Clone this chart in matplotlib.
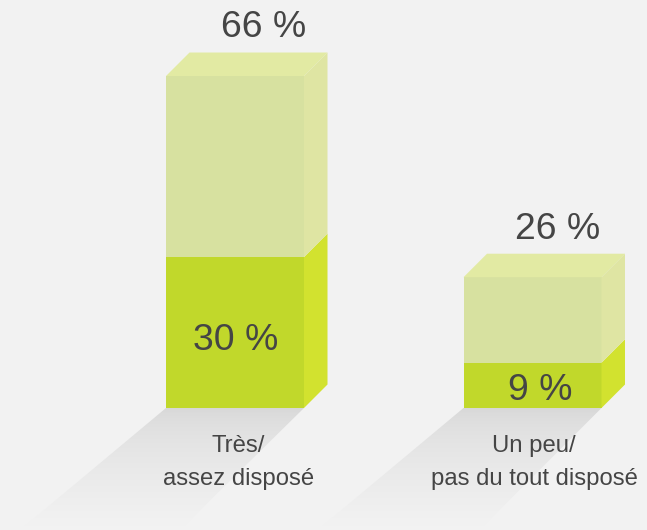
import matplotlib

matplotlib.use("Agg")

import matplotlib.pyplot as plt
import numpy as np
from matplotlib.colors import to_rgb
from matplotlib.patches import Polygon

categories = ["Très/\nassez disposé", "Un peu/\npas du tout disposé"]
lower_values = [30, 9]
total_values = [66, 26]
lower_labels = ["30 %", "9 %"]
total_labels = ["66 %", "26 %"]

BACKGROUND = "#f2f2f2"
TEXT = "#454545"
LOWER_FRONT = "#c1d82b"
LOWER_SIDE = "#d2e22f"
UPPER_FRONT = "#d7e1a0"
UPPER_SIDE = "#dfe5a3"
TOP_FACE = "#e2eaa3"
SHADOW = "#d7d7d7"

WIDTH, HEIGHT = 647, 530
BASELINE = 408  # pixel row of value 0
SCALE = 5.03  # pixels per percentage point
DEPTH = 23.5

bar_lefts = [166, 463.5]
bar_width = 138
shadow_dx = [(-146, -124), (-146, -122)]
total_text_x = [264, 558]
lower_text_x = [236, 540]
category_text_x = [238.5, 534]


def y_at(pixel_row):
    """Convert a pixel row of the picture into axis value."""
    return (BASELINE - pixel_row) / SCALE


figure = plt.figure(figsize=(WIDTH / 100, HEIGHT / 100), dpi=100)
figure.patch.set_facecolor(BACKGROUND)
axis = figure.add_axes([0, 0, 1, 1])
axis.set_xlim(0, WIDTH)
axis.set_ylim(y_at(HEIGHT), y_at(0))
axis.axis("off")

plt.rcParams["font.family"] = ["Liberation Sans", "DejaVu Sans"]

depth_y = DEPTH / SCALE

# fading floor shadows, quick at first and slow towards the end
start = np.array(to_rgb(SHADOW))
end = np.array(to_rgb(BACKGROUND))
fade = np.linspace(0, 1, 120)[:, None] ** 0.6
gradient = (start + (end - start) * fade)[:, None, :]

for left, (dx_left, dx_right) in zip(bar_lefts, shadow_dx):
    shadow = Polygon(
        [
            (left, 0),
            (left + bar_width, 0),
            (left + bar_width + dx_right, y_at(530)),
            (left + dx_left, y_at(530)),
        ],
        closed=True,
        facecolor="none",
        edgecolor="none",
    )
    axis.add_patch(shadow)
    image = axis.imshow(
        gradient,
        extent=(0, WIDTH, y_at(526), 0),
        aspect="auto",
        zorder=1,
    )
    image.set_clip_path(shadow)

axis.set_xlim(0, WIDTH)
axis.set_ylim(y_at(HEIGHT), y_at(0))

axis.bar(
    bar_lefts,
    lower_values,
    width=bar_width,
    align="edge",
    color=LOWER_FRONT,
    zorder=3,
)
axis.bar(
    bar_lefts,
    [t - v for t, v in zip(total_values, lower_values)],
    bottom=lower_values,
    width=bar_width,
    align="edge",
    color=UPPER_FRONT,
    zorder=3,
)

for left, lower, total in zip(bar_lefts, lower_values, total_values):
    right = left + bar_width
    axis.add_patch(
        Polygon(
            [
                (right, 0),
                (right + DEPTH, depth_y),
                (right + DEPTH, lower + depth_y),
                (right, lower),
            ],
            facecolor=LOWER_SIDE,
            zorder=3,
        )
    )
    axis.add_patch(
        Polygon(
            [
                (right, lower),
                (right + DEPTH, lower + depth_y),
                (right + DEPTH, total + depth_y),
                (right, total),
            ],
            facecolor=UPPER_SIDE,
            zorder=3,
        )
    )
    axis.add_patch(
        Polygon(
            [
                (left, total),
                (left + DEPTH, total + depth_y),
                (right + DEPTH, total + depth_y),
                (right, total),
            ],
            facecolor=TOP_FACE,
            zorder=3,
        )
    )

for x, label, row in zip(total_text_x, total_labels, [27, 229]):
    axis.text(x, y_at(row), label, ha="center", va="center",
              fontsize=26.9, color=TEXT, zorder=5)

for x, label, row in zip(lower_text_x, lower_labels, [340, 390]):
    axis.text(x, y_at(row), label, ha="center", va="center",
              fontsize=26.9, color=TEXT, zorder=5)

for x, label in zip(category_text_x, categories):
    axis.text(x, y_at(462.5), label, ha="center", va="center",
              fontsize=17.2, color=TEXT, linespacing=1.6, zorder=5)

figure.savefig("out.png", dpi=100, facecolor=BACKGROUND)
plt.close(figure)
